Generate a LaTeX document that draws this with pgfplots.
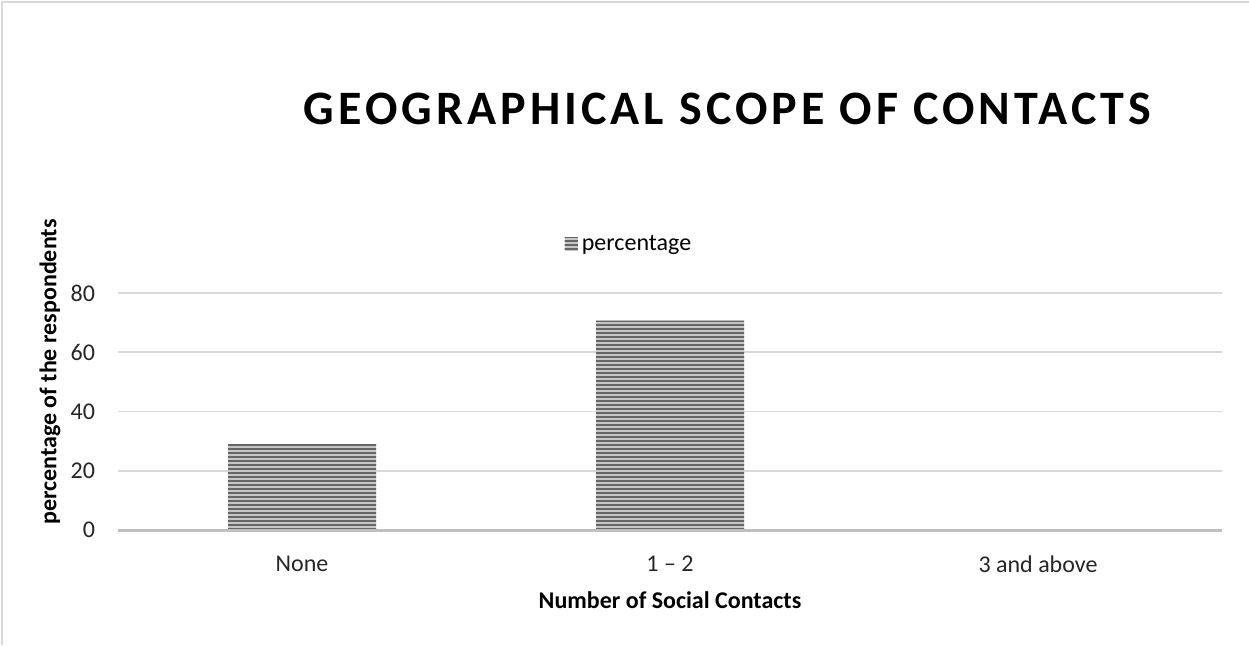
\documentclass[border=0pt]{standalone}
\usepackage{fontspec}
\setmainfont{Carlito}
\newfontfamily\titlefont[LetterSpace=8.5]{Carlito}
\usepackage{pgfplots}
\pgfplotsset{compat=1.18}
\usetikzlibrary{patterns.meta}
\definecolor{gridc}{HTML}{D9D9D9}
\definecolor{axc}{HTML}{BFBFBF}
\definecolor{frame}{HTML}{D9D9D9}
\begin{document}
\begin{tikzpicture}
\useasboundingbox (0,0) rectangle (624.5pt,322.5pt);
\fill[white] (0,0) rectangle (624.5pt,322.5pt);
\draw[frame, line width=1pt] (1pt,0) -- (1pt,321.5pt) -- (624.5pt,321.5pt);
\begin{axis}[
  at={(59pt,57.5pt)}, anchor=south west,
  scale only axis, width=552pt, height=118.5pt,
  xmin=-0.5, xmax=2.5, ymin=0, ymax=80,
  xtick={0,1,2}, xticklabels={None,{1 -- 2},3 and above},
  ytick={0,20,40,60,80},
  axis line style={draw=none},
  major tick length=0pt,
  ymajorgrids, grid style={gridc, line width=0.8pt},
  tick label style={font=\fontsize{12}{14}\selectfont, text=black!85},
  /pgf/number format/assume math mode=true,
  yticklabel style={xshift=-8pt},
  xticklabel style={yshift=-9.5pt},
  xlabel={\bfseries Number of Social Contacts},
  label style={font=\fontsize{12}{14}\selectfont},
  xlabel style={at={(0.5,0)}, anchor=center, yshift=-35pt},
  legend style={at={(0.4638,1.206)}, anchor=center, draw=none, fill=none,
    font=\fontsize{12}{14}\selectfont, inner sep=0pt,
    /tikz/every even column/.append style={column sep=2pt}},
  legend image code/.code={\fill[gray!45] (0pt,-3.2pt) rectangle (6.5pt,3.2pt);
     \fill[pattern={Lines[angle=0,distance=2pt,line width=1pt]}, pattern color=black!60] (0pt,-3.2pt) rectangle (6.5pt,3.2pt);},
  clip=false,
]
\addplot[ybar, bar width=74pt, draw=none, fill=gray!45,
  postaction={pattern={Lines[angle=0,distance=2pt,line width=1pt]}, pattern color=black!60}]
  coordinates {(0,29) (1,70.7) (2,0)};
\addlegendentry{percentage}
\draw[axc, line width=1.5pt] (axis cs:-0.5,0) -- (axis cs:2.5,0);
\end{axis}
\node[font=\bfseries\fontsize{12}{14}\selectfont, rotate=90, anchor=center] at (25pt,136.5pt) {percentage of the respondents};
\node[font=\titlefont\bfseries\fontsize{24}{28}\selectfont, anchor=center] at (363.75pt,268.25pt) {GEOGRAPHICAL SCOPE OF CONTACTS};
\end{tikzpicture}
\end{document}
